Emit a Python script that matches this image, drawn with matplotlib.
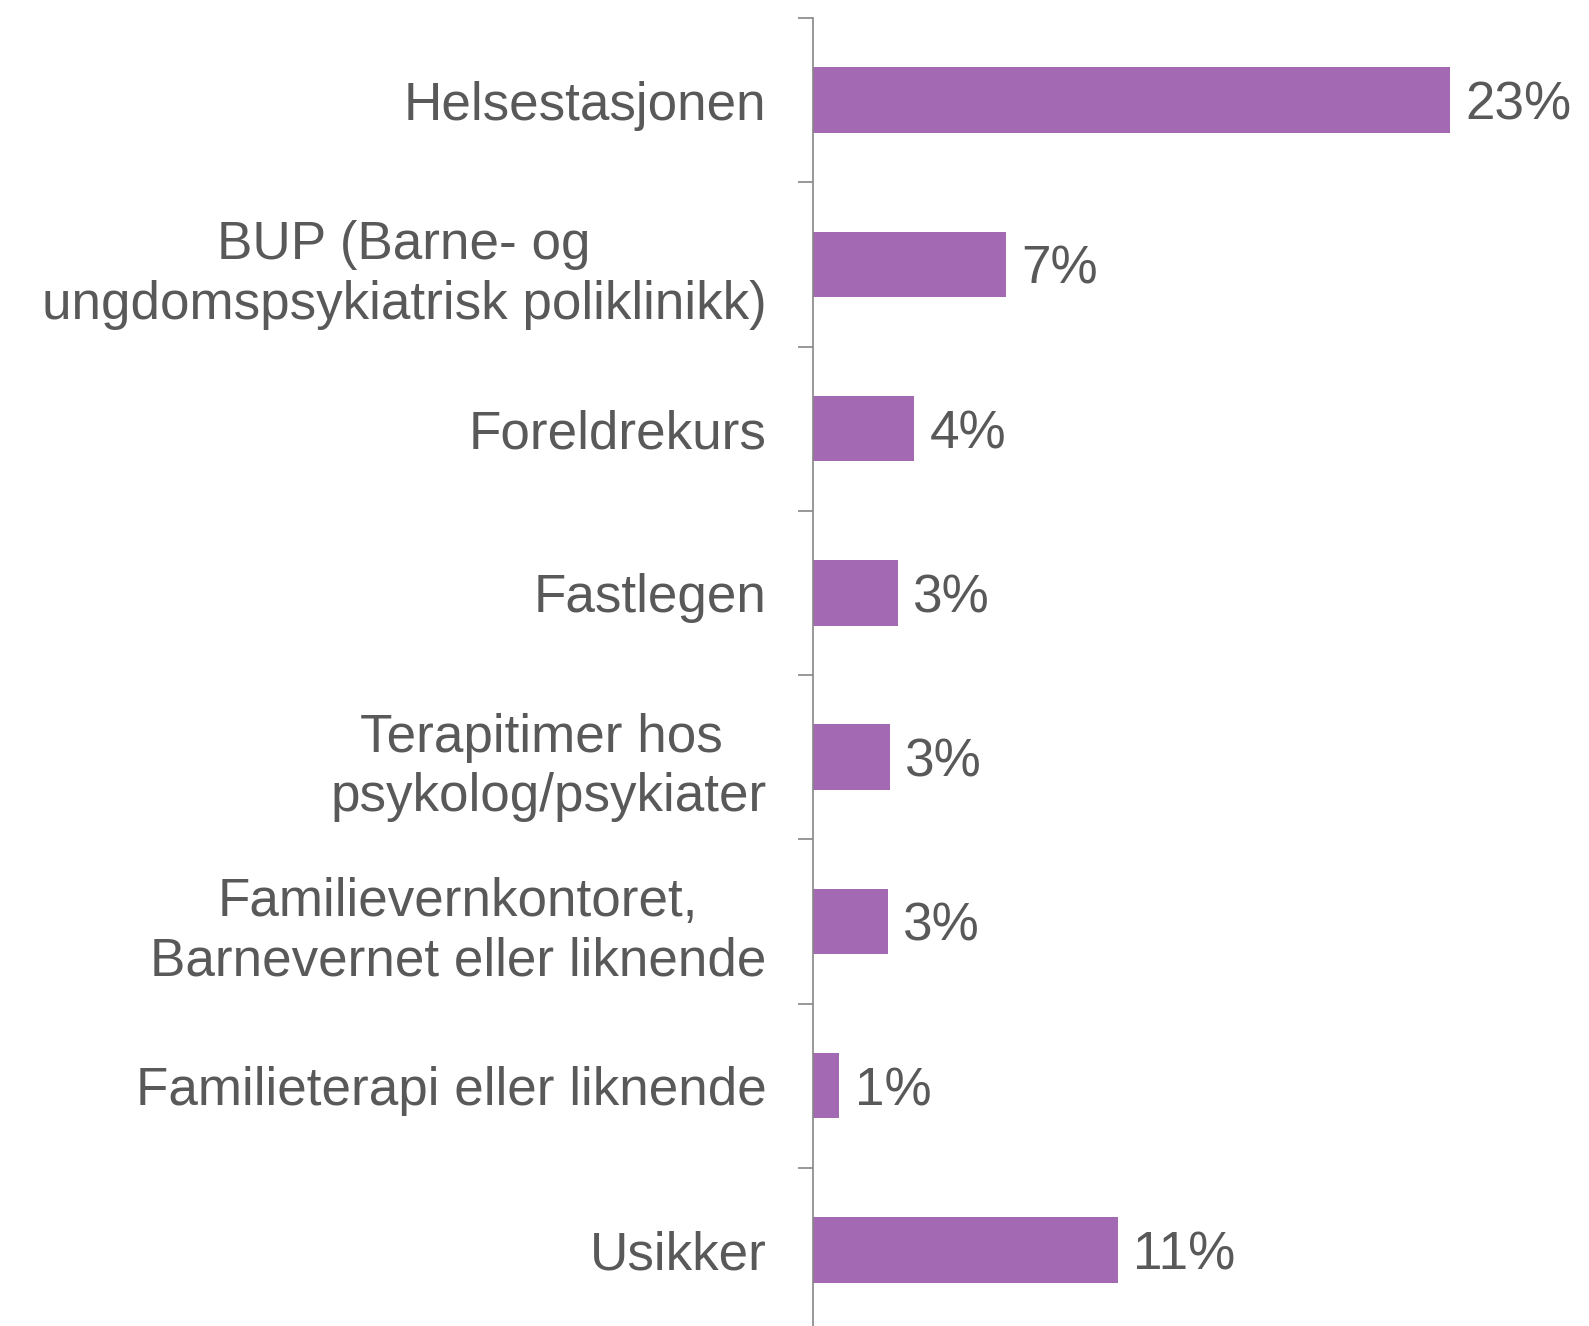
import numpy as np
import matplotlib.pyplot as plt

plt.rcParams['font.family'] = ['Liberation Sans', 'DejaVu Sans']

categories = ['Helsestasjonen',
              'BUP (Barne- og\nungdomspsykiatrisk poliklinikk)',
              'Foreldrekurs',
              'Fastlegen',
              'Terapitimer hos \npsykolog/psykiater',
              'Familievernkontoret,\nBarnevernet eller liknende',
              'Familieterapi eller liknende',
              'Usikker']
values = [23.0, 6.95, 3.66, 3.07, 2.78, 2.71, 0.95, 11.0]
value_labels = ['23%', '7%', '4%', '3%', '3%', '3%', '1%', '11%']

bar_color = '#A469B3'
text_color = '#595959'
axis_color = '#868686'
fs = 38.2

fig = plt.figure(figsize=(15.89, 13.26), dpi=100)
# axes spans from the axis line to the right edge; bottom goes slightly past the figure
ax = fig.add_axes([813 / 1589, -6 / 1326, 1 - 813 / 1589, (1326 - 18 + 6) / 1326])

y = np.arange(len(categories))
ax.barh(y, values, height=0.4, color=bar_color)
ax.set_ylim(len(categories) - 0.5, -0.5)
ax.set_xlim(0, 28)

for yi, v, lab in zip(y, values, value_labels):
    ax.annotate(lab, (v, yi), xytext=(11, -4), textcoords='offset points',
                va='center', ha='left', fontsize=fs, color=text_color)

ax.set_yticks(y)
ax.set_yticklabels(categories, fontsize=fs, color=text_color,
                   multialignment='center', linespacing=1.25)
ax.tick_params(axis='y', which='major', length=0, pad=33.5)
ax.set_yticks(np.arange(-0.5, len(categories) + 0.5, 1), minor=True)
ax.tick_params(axis='y', which='minor', length=11, width=1.2, color=axis_color)

ax.set_xticks([])
for s in ['top', 'right', 'bottom']:
    ax.spines[s].set_visible(False)
ax.spines['left'].set_color(axis_color)
ax.spines['left'].set_linewidth(1.2)

fig.savefig('out.png', dpi=100)
